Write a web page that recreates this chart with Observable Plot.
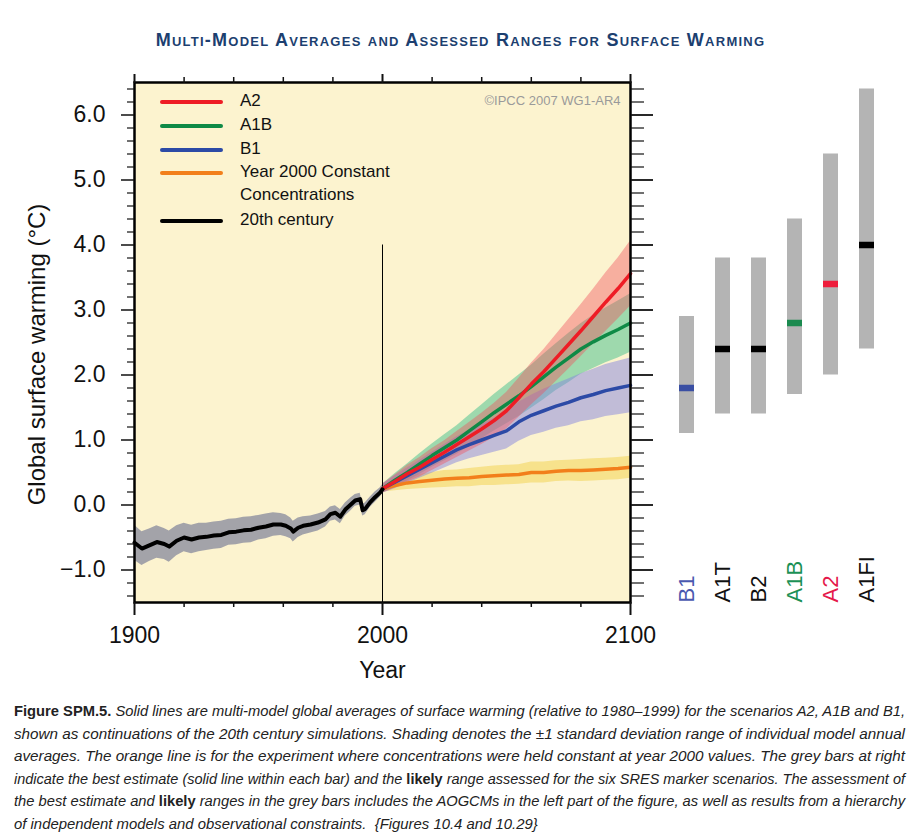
<!DOCTYPE html>
<html>
<head>
<meta charset="utf-8">
<script src="https://cdn.jsdelivr.net/npm/d3@7"></script>
<script src="https://cdn.jsdelivr.net/npm/@observablehq/plot@0.6"></script>
<style>
  body { margin: 0; background: #fff; width: 921px; height: 833px; position: relative; overflow: hidden; font-family: "Liberation Sans", Arial, sans-serif; }
  #title { position: absolute; left: 0; top: 30px; width: 921px; text-align: center; font-weight: bold; font-size: 18px; font-family: "Liberation Sans", Arial, sans-serif; font-variant: small-caps; color: #1c3f70; letter-spacing: 1.25px; }
  #chart, #bars { position: absolute; left: 0; top: 62px; }
  .leg-line { position: absolute; height: 4px; width: 63px; border-radius: 2px; }
  .leg-text { position: absolute; font-size: 17px; line-height: 22px; color: #111; white-space: nowrap; }
  #caption { position: absolute; left: 14px; top: 700px; width: 891px; font-family: "Liberation Sans", Arial, sans-serif; font-style: italic; font-size: 15px; color: #222; }
  #caption div { height: 22.6px; line-height: 22.6px; white-space: nowrap; }
  #caption span { display: inline-block; transform-origin: 0 50%; }
  #caption b { font-style: normal; }
</style>
</head>
<body>
<div id="title">Multi-Model Averages and Assessed Ranges for Surface Warming</div>
<div id="chart"></div>
<div id="bars"></div>
<div id="legend"></div>
<div id="caption"></div>
<script>
// ---------------- DATA ----------------
const years20 = [1900,1903,1906,1909,1912,1914,1917,1920,1923,1926,1929,1932,1935,1938,1941,1944,1947,1950,1953,1956,1959,1961,1963,1964,1966,1968,1971,1974,1977,1979,1981,1983,1985,1987,1989,1991,1992,1993,1995,1997,1999,2000];
const mean20  = [-0.58,-0.67,-0.62,-0.57,-0.60,-0.64,-0.55,-0.50,-0.53,-0.50,-0.49,-0.47,-0.46,-0.42,-0.41,-0.39,-0.38,-0.35,-0.33,-0.30,-0.30,-0.32,-0.36,-0.41,-0.35,-0.32,-0.30,-0.27,-0.22,-0.14,-0.12,-0.18,-0.07,0.00,0.07,0.09,-0.08,-0.06,0.04,0.12,0.19,0.24];
const sd20    = [0.27,0.26,0.25,0.25,0.24,0.24,0.23,0.22,0.22,0.22,0.21,0.21,0.21,0.20,0.20,0.20,0.20,0.19,0.19,0.18,0.17,0.17,0.16,0.16,0.15,0.14,0.13,0.13,0.12,0.11,0.11,0.11,0.10,0.10,0.09,0.09,0.09,0.09,0.08,0.08,0.07,0.07];

const futureYears = [2000,2005,2010,2015,2020,2025,2030,2035,2040,2045,2050,2055,2060,2065,2070,2075,2080,2085,2090,2095,2100];
const a2      = [0.25,0.36,0.48,0.58,0.70,0.81,0.93,1.05,1.17,1.30,1.45,1.65,1.86,2.05,2.26,2.47,2.68,2.90,3.12,3.33,3.56];
const a1b     = [0.25,0.38,0.50,0.63,0.76,0.88,1.00,1.14,1.28,1.42,1.55,1.68,1.82,1.97,2.12,2.26,2.40,2.51,2.61,2.70,2.80];
const b1      = [0.25,0.35,0.45,0.55,0.65,0.75,0.85,0.93,1.00,1.07,1.14,1.28,1.38,1.45,1.52,1.58,1.65,1.70,1.76,1.80,1.84];
const commit  = [0.25,0.30,0.34,0.36,0.38,0.40,0.41,0.42,0.44,0.45,0.46,0.47,0.50,0.50,0.52,0.53,0.53,0.54,0.55,0.56,0.58];
const a2Sd    = [0.07,0.10,0.13,0.15,0.17,0.18,0.20,0.22,0.24,0.26,0.28,0.30,0.32,0.34,0.36,0.38,0.40,0.42,0.45,0.47,0.50];
const a1bSd   = [0.07,0.10,0.13,0.16,0.18,0.20,0.22,0.24,0.26,0.28,0.30,0.32,0.33,0.35,0.36,0.38,0.39,0.41,0.42,0.44,0.45];
const b1Sd    = [0.07,0.10,0.12,0.14,0.16,0.18,0.20,0.22,0.24,0.26,0.28,0.30,0.31,0.33,0.34,0.36,0.37,0.39,0.40,0.41,0.42];
const commitSd= [0.05,0.08,0.10,0.11,0.12,0.13,0.13,0.14,0.14,0.15,0.15,0.15,0.16,0.16,0.16,0.16,0.17,0.17,0.17,0.17,0.17];

const scenarios   = ["B1","A1T","B2","A1B","A2","A1FI"];
const likelyLow   = [1.1,1.4,1.4,1.7,2.0,2.4];
const likelyHigh  = [2.9,3.8,3.8,4.4,5.4,6.4];
const bestEst     = [1.8,2.4,2.4,2.8,3.4,4.0];
const bestColors  = ["#3a4fa3","#000000","#000000","#1b8a4f","#ee1d3c","#000000"];
const labelColors = ["#4a58b0","#111111","#111111","#1b9155","#e5194a","#111111"];

const yMajorTicks = [-1,0,1,2,3,4,5,6];
const yMinorTicks = d3.range(-14, 65, 2).map(d => d / 10).filter(d => !yMajorTicks.includes(d));
const xMajorTicks = [1900,2000,2100];
const xMinorTicks = [1920,1940,1960,1980,2020,2040,2060,2080];
const yLabel = "Global surface warming (°C)";
const xLabel = "Year";
const baseYear = 2000, ruleTop = 4.0, ruleBottom = -1.5;
const credit = "©IPCC 2007 WG1-AR4";

const legendLabels = ["A2","A1B","B1","Year 2000 Constant\nConcentrations","20th century"];
const legendColors = ["#ee1c25","#0f8a46","#2c4aa6","#f27f1b","#000000"];

const captionLines = [
  "<b>Figure SPM.5.</b> Solid lines are multi-model global averages of surface warming (relative to 1980–1999) for the scenarios A2, A1B and B1,",
  "shown as continuations of the 20th century simulations. Shading denotes the ±1 standard deviation range of individual model annual",
  "averages. The orange line is for the experiment where concentrations were held constant at year 2000 values. The grey bars at right",
  "indicate the best estimate (solid line within each bar) and the <b>likely</b> range assessed for the six SRES marker scenarios. The assessment of",
  "the best estimate and <b>likely</b> ranges in the grey bars includes the AOGCMs in the left part of the figure, as well as results from a hierarchy",
  "of independent models and observational constraints.&nbsp; {Figures 10.4 and 10.29}"
];

// ---------------- TABLES ----------------
const t20 = years20.map((y, i) => ({year: y, v: mean20[i], lo: mean20[i] - sd20[i], hi: mean20[i] + sd20[i]}));
const mk = (vals, sds) => futureYears.map((y, i) => ({year: y, v: vals[i], lo: vals[i] - sds[i], hi: vals[i] + sds[i]}));
const tA2 = mk(a2, a2Sd), tA1B = mk(a1b, a1bSd), tB1 = mk(b1, b1Sd), tC = mk(commit, commitSd);
const bars = scenarios.map((s, i) => ({s, lo: likelyLow[i], hi: likelyHigh[i], best: bestEst[i], bc: bestColors[i], lc: labelColors[i]}));

const W = 921, H = 625, MT = 20, MB = 85;
const fontFamily = "'Liberation Sans', Arial, sans-serif";

const chart = Plot.plot({
  width: W, height: H,
  marginTop: MT, marginBottom: MB, marginLeft: 134, marginRight: 291,
  style: {fontFamily, background: "transparent", color: "#111"},
  x: {domain: [1900, 2100], label: null},
  y: {domain: [-1.5, 6.5], label: null},
  marks: [
    Plot.frame({fill: "#fcf3cf", stroke: "none"}),
    Plot.areaY(t20, {x: "year", y1: "lo", y2: "hi", fill: "#9e9ea6", fillOpacity: 0.95}),
    Plot.areaY(tC, {x: "year", y1: "lo", y2: "hi", fill: "#f1d24a", fillOpacity: 0.5}),
    Plot.areaY(tA1B, {x: "year", y1: "lo", y2: "hi", fill: "#3fbf8c", fillOpacity: 0.5}),
    Plot.areaY(tB1, {x: "year", y1: "lo", y2: "hi", fill: "#8585e0", fillOpacity: 0.5}),
    Plot.areaY(tA2, {x: "year", y1: "lo", y2: "hi", fill: "#f0505c", fillOpacity: 0.42}),
    Plot.ruleX([baseYear], {y1: ruleBottom, y2: ruleTop, stroke: "#000", strokeWidth: 1}),
    Plot.lineY(tC, {x: "year", y: "v", stroke: "#f27f1b", strokeWidth: 3.5}),
    Plot.lineY(tB1, {x: "year", y: "v", stroke: "#2c4aa6", strokeWidth: 3.5}),
    Plot.lineY(tA1B, {x: "year", y: "v", stroke: "#0f8a46", strokeWidth: 3.5}),
    Plot.lineY(tA2, {x: "year", y: "v", stroke: "#ee1c25", strokeWidth: 3.5}),
    Plot.lineY(t20, {x: "year", y: "v", stroke: "#000", strokeWidth: 4}),
    Plot.text([credit], {frameAnchor: "top-right", dx: -10, dy: 13, fontSize: 13, fill: "#9a9a9a"}),
    Plot.frame({stroke: "#000", strokeWidth: 2.5}),
    Plot.axisY(yMajorTicks, {anchor: "left", tickSize: 13, tickPadding: 16, strokeWidth: 1.5, fontSize: 23, tickFormat: d3.format(".1f"), label: null}),
    Plot.text([yLabel], {frameAnchor: "left", rotate: -90, textAnchor: "middle", dx: -97, dy: 12, fontSize: 24, fill: "#111"}),
    Plot.axisY(yMinorTicks, {anchor: "left", tickSize: 7, strokeWidth: 1.2, text: null, label: null}),
    Plot.axisY(yMajorTicks, {anchor: "right", tickSize: 22, strokeWidth: 1.8, text: null, label: null}),
    Plot.axisY(yMinorTicks, {anchor: "right", tickSize: 13, strokeWidth: 1.2, text: null, label: null}),
    Plot.axisX(xMajorTicks, {anchor: "bottom", tickSize: 13, tickPadding: 11, strokeWidth: 2, fontSize: 23, tickFormat: d => String(d), label: xLabel, labelAnchor: "center", labelOffset: 75, labelArrow: "none"}),
    Plot.axisX(xMinorTicks, {anchor: "bottom", tickSize: 5, strokeWidth: 1.5, text: null, label: null}),
    Plot.axisX(xMajorTicks, {anchor: "top", tickSize: 9, strokeWidth: 2, text: null, label: null}),
    Plot.axisX(xMinorTicks, {anchor: "top", tickSize: 6, strokeWidth: 1.5, text: null, label: null})
  ]
});
document.getElementById("chart").append(chart);

const barPlot = Plot.plot({
  width: W, height: H,
  marginTop: MT, marginBottom: MB, marginLeft: 656, marginRight: 23,
  style: {fontFamily, background: "transparent"},
  x: {type: "band", domain: scenarios, padding: 0.58, axis: null},
  y: {domain: [-1.5, 6.5], axis: null},
  marks: [
    Plot.barY(bars, {x: "s", y1: "lo", y2: "hi", fill: "#b4b4b4"}),
    Plot.tickY(bars, {x: "s", y: "best", stroke: "bc", strokeWidth: 6.5}),
    Plot.text(bars, {x: "s", frameAnchor: "bottom", text: "s", fill: "lc", rotate: -90, textAnchor: "start", lineAnchor: "middle", fontSize: 22})
  ]
});
document.getElementById("bars").append(barPlot);

// legend (HTML overlay)
const legend = document.getElementById("legend");
const legLineY = [102, 126, 150, 173, 221];
legendLabels.forEach((lab, i) => {
  const ln = document.createElement("div");
  ln.className = "leg-line";
  ln.style.left = "160px"; ln.style.top = (legLineY[i] - 2) + "px"; ln.style.background = legendColors[i];
  legend.append(ln);
  lab.split("\n").forEach((part, j) => {
    const t = document.createElement("div");
    t.className = "leg-text";
    t.textContent = part;
    t.style.left = "240px"; t.style.top = (legLineY[i] - 12 + j * 23) + "px";
    legend.append(t);
  });
});

// caption: each line fitted (justified) to the caption width
const cap = document.getElementById("caption");
const spans = captionLines.map(l => {
  const d = document.createElement("div");
  const s = document.createElement("span");
  s.innerHTML = l;
  d.append(s);
  cap.append(d);
  return s;
});
const capWidth = 891;
const scales = spans.map(s => capWidth / s.getBoundingClientRect().width);
const meanScale = d3.mean(scales.slice(0, -1));
spans.forEach((s, i) => {
  const k = i < spans.length - 1 ? scales[i] : meanScale;
  s.style.transform = `scaleX(${k})`;
});
</script>
</body>
</html>
